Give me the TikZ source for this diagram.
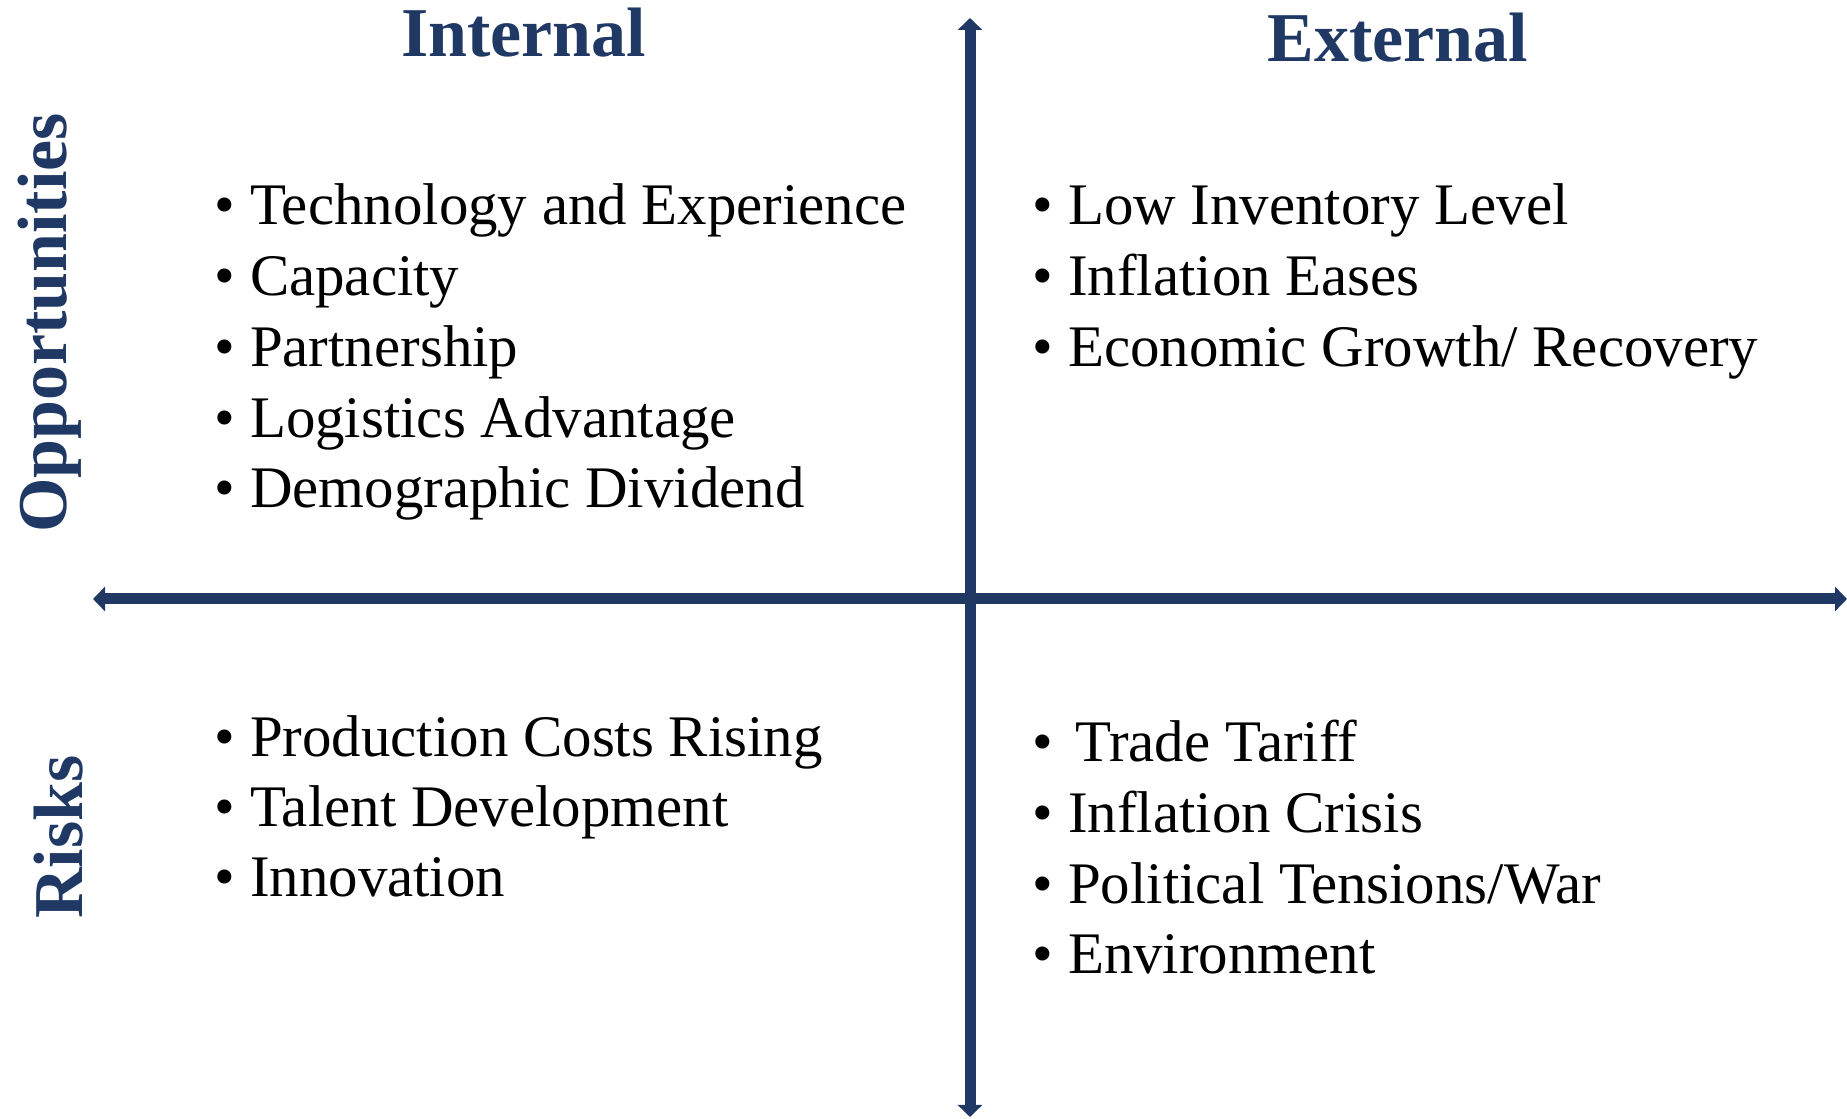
\documentclass[tikz,border=0pt]{standalone}
\usepackage{fontspec}
\setmainfont{Liberation Serif}
\usepackage{xcolor}
\usetikzlibrary{arrows.meta}
\definecolor{navy}{RGB}{32,56,100}

\begin{document}
\begin{tikzpicture}[x=0.01cm, y=-0.01cm]
            \tikzset{axis/.style={navy, line width=0.11cm, {Triangle[length=0.12cm, width=0.24cm]}-{Triangle[length=0.12cm, width=0.24cm]}}}
            \tikzset{heading/.style={navy, inner sep=0, anchor=base, font=\fontsize{19.9}{24}\selectfont\bfseries}}
            \tikzset{item/.style={inner sep=0, anchor=base west, font=\fontsize{16.75}{20}\selectfont}}
            \useasboundingbox (0, 0) rectangle (1847, 1119);
            \coordinate (top) at (970, 18);
            \coordinate (bottom) at (970, 1117);
            \coordinate (left) at (93, 599);
            \coordinate (right) at (1847, 599);
            \draw[axis] (bottom) -- (top);
            \draw[axis] (left) -- (right);
            \node[heading] (internal) at (523.5, 57) {Internal};
            \node[heading] (external) at (1398, 62) {External};
            \node[heading, rotate=90] (opportunities) at (66, 323) {Opportunities};
            \node[heading, rotate=90] (risks) at (82, 837) {Risks};
            \foreach \t [count=\i] in {Technology and Experience, Capacity, Partnership, Logistics Advantage, Demographic Dividend} {
                \node[item] (oi\i) at (214, 225 + 70.7*\i - 70.7) {\textbullet\ \t};
            }
            \foreach \t [count=\i] in {Low Inventory Level, Inflation Eases, Economic Growth/ Recovery} {
                \node[item] (oe\i) at (1032, 225 + 70.7*\i - 70.7) {\textbullet\ \t};
            }
            \foreach \t [count=\i] in {Production Costs Rising, Talent Development, Innovation} {
                \node[item] (ri\i) at (214, 757 + 70*\i - 70) {\textbullet\ \t};
            }
            \node[item] (re1) at (1032, 762) {\textbullet\ \kern2pt Trade Tariff};
            \foreach \t [count=\i from 2] in {Inflation Crisis, Political Tensions/War, Environment} {
                \node[item] (re\i) at (1032, 833 + 70.5*\i - 141) {\textbullet\ \t};
            }
        \end{tikzpicture}
\end{document}
